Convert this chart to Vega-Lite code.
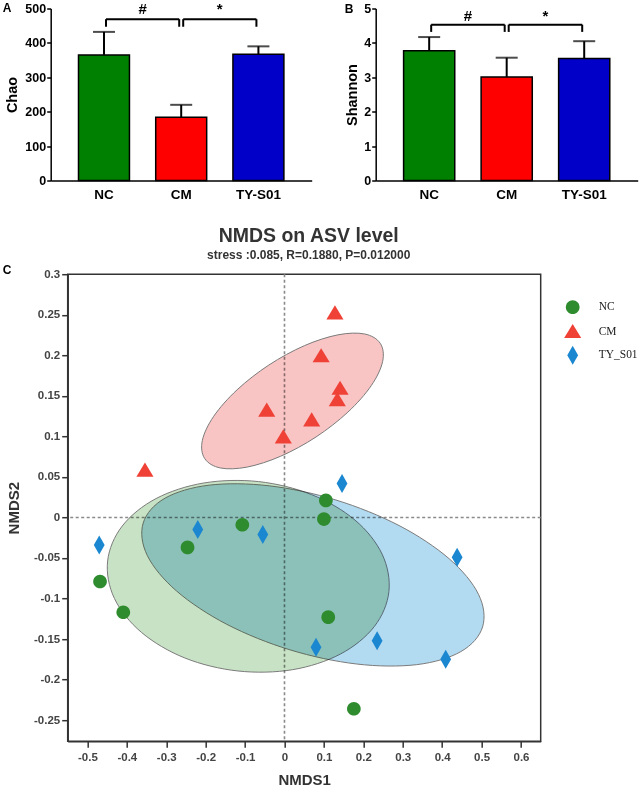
{
  "$schema": "https://vega.github.io/schema/vega-lite/v6.json",
  "background": "white",
  "padding": {"left": 2.7, "top": 1.5, "right": 0, "bottom": 0},
  "config": {
    "font": "Liberation Sans",
    "view": {"stroke": null},
    "axis": {"grid": false, "labelOverlap": false},
    "axisY": {"labelOverlap": false}
  },
  "datasets": {
    "chao": [
      {"group": "NC", "mean": 365, "upper": 432},
      {"group": "CM", "mean": 184, "upper": 220},
      {"group": "TY-S01", "mean": 367, "upper": 390}
    ],
    "chaoBr": [
      {"from": "NC", "to": "CM", "top": 469, "bottom": 447, "ly": 483, "label": "#"},
      {"from": "CM", "to": "TY-S01", "top": 469, "bottom": 447, "ly": 483, "label": "*"}
    ],
    "shannon": [
      {"group": "NC", "mean": 3.77, "upper": 4.17},
      {"group": "CM", "mean": 3.01, "upper": 3.57},
      {"group": "TY-S01", "mean": 3.55, "upper": 4.05}
    ],
    "shannonBr": [
      {"from": "NC", "to": "CM", "top": 4.53, "bottom": 4.32, "ly": 4.65, "label": "#"},
      {"from": "CM", "to": "TY-S01", "top": 4.53, "bottom": 4.32, "ly": 4.65, "label": "*"}
    ],
    "points": [
      {"group": "NC", "NMDS1": -0.468, "NMDS2": -0.079},
      {"group": "NC", "NMDS1": -0.409, "NMDS2": -0.117},
      {"group": "NC", "NMDS1": -0.246, "NMDS2": -0.037},
      {"group": "NC", "NMDS1": -0.107, "NMDS2": -0.009},
      {"group": "NC", "NMDS1": 0.105, "NMDS2": 0.021},
      {"group": "NC", "NMDS1": 0.100, "NMDS2": -0.002},
      {"group": "NC", "NMDS1": 0.111, "NMDS2": -0.123},
      {"group": "NC", "NMDS1": 0.176, "NMDS2": -0.236},
      {"group": "CM", "NMDS1": 0.128, "NMDS2": 0.252},
      {"group": "CM", "NMDS1": 0.093, "NMDS2": 0.199},
      {"group": "CM", "NMDS1": 0.141, "NMDS2": 0.159},
      {"group": "CM", "NMDS1": 0.134, "NMDS2": 0.145},
      {"group": "CM", "NMDS1": 0.069, "NMDS2": 0.120},
      {"group": "CM", "NMDS1": -0.003, "NMDS2": 0.099},
      {"group": "CM", "NMDS1": -0.045, "NMDS2": 0.132},
      {"group": "CM", "NMDS1": -0.354, "NMDS2": 0.058},
      {"group": "TY_S01", "NMDS1": -0.470, "NMDS2": -0.034},
      {"group": "TY_S01", "NMDS1": -0.220, "NMDS2": -0.015},
      {"group": "TY_S01", "NMDS1": -0.055, "NMDS2": -0.021},
      {"group": "TY_S01", "NMDS1": 0.080, "NMDS2": -0.160},
      {"group": "TY_S01", "NMDS1": 0.146, "NMDS2": 0.042},
      {"group": "TY_S01", "NMDS1": 0.438, "NMDS2": -0.049},
      {"group": "TY_S01", "NMDS1": 0.235, "NMDS2": -0.152},
      {"group": "TY_S01", "NMDS1": 0.409, "NMDS2": -0.175}
    ],
    "ellipses": [
      {"group": "NC", "i": 0, "NMDS1": 0.2649, "NMDS2": -0.0915},
      {"group": "NC", "i": 1, "NMDS1": 0.2277, "NMDS2": -0.1347},
      {"group": "NC", "i": 2, "NMDS1": 0.1419, "NMDS2": -0.1685},
      {"group": "NC", "i": 3, "NMDS1": 0.0205, "NMDS2": -0.1878},
      {"group": "NC", "i": 4, "NMDS1": -0.1180, "NMDS2": -0.1894},
      {"group": "NC", "i": 5, "NMDS1": -0.2526, "NMDS2": -0.1734},
      {"group": "NC", "i": 6, "NMDS1": -0.3626, "NMDS2": -0.1419},
      {"group": "NC", "i": 7, "NMDS1": -0.4315, "NMDS2": -0.0999},
      {"group": "NC", "i": 8, "NMDS1": -0.4487, "NMDS2": -0.0538},
      {"group": "NC", "i": 9, "NMDS1": -0.4115, "NMDS2": -0.0105},
      {"group": "NC", "i": 10, "NMDS1": -0.3257, "NMDS2": 0.0233},
      {"group": "NC", "i": 11, "NMDS1": -0.2043, "NMDS2": 0.0425},
      {"group": "NC", "i": 12, "NMDS1": -0.0658, "NMDS2": 0.0442},
      {"group": "NC", "i": 13, "NMDS1": 0.0688, "NMDS2": 0.0281},
      {"group": "NC", "i": 14, "NMDS1": 0.1789, "NMDS2": -0.0033},
      {"group": "NC", "i": 15, "NMDS1": 0.2477, "NMDS2": -0.0453},
      {"group": "TY_S01", "i": 0, "NMDS1": 0.5026, "NMDS2": -0.1350},
      {"group": "TY_S01", "i": 1, "NMDS1": 0.4475, "NMDS2": -0.1655},
      {"group": "TY_S01", "i": 2, "NMDS1": 0.3353, "NMDS2": -0.1816},
      {"group": "TY_S01", "i": 3, "NMDS1": 0.1830, "NMDS2": -0.1808},
      {"group": "TY_S01", "i": 4, "NMDS1": 0.0138, "NMDS2": -0.1633},
      {"group": "TY_S01", "i": 5, "NMDS1": -0.1465, "NMDS2": -0.1318},
      {"group": "TY_S01", "i": 6, "NMDS1": -0.2735, "NMDS2": -0.0909},
      {"group": "TY_S01", "i": 7, "NMDS1": -0.3479, "NMDS2": -0.0471},
      {"group": "TY_S01", "i": 8, "NMDS1": -0.3584, "NMDS2": -0.0068},
      {"group": "TY_S01", "i": 9, "NMDS1": -0.3033, "NMDS2": 0.0237},
      {"group": "TY_S01", "i": 10, "NMDS1": -0.1911, "NMDS2": 0.0398},
      {"group": "TY_S01", "i": 11, "NMDS1": -0.0388, "NMDS2": 0.0390},
      {"group": "TY_S01", "i": 12, "NMDS1": 0.1304, "NMDS2": 0.0215},
      {"group": "TY_S01", "i": 13, "NMDS1": 0.2907, "NMDS2": -0.0100},
      {"group": "TY_S01", "i": 14, "NMDS1": 0.4177, "NMDS2": -0.0509},
      {"group": "TY_S01", "i": 15, "NMDS1": 0.4921, "NMDS2": -0.0947},
      {"group": "CM", "i": 0, "NMDS1": 0.2430, "NMDS2": 0.2147},
      {"group": "CM", "i": 1, "NMDS1": 0.2490, "NMDS2": 0.1924},
      {"group": "CM", "i": 2, "NMDS1": 0.2202, "NMDS2": 0.1626},
      {"group": "CM", "i": 3, "NMDS1": 0.1609, "NMDS2": 0.1299},
      {"group": "CM", "i": 4, "NMDS1": 0.0802, "NMDS2": 0.0993},
      {"group": "CM", "i": 5, "NMDS1": -0.0096, "NMDS2": 0.0755},
      {"group": "CM", "i": 6, "NMDS1": -0.0948, "NMDS2": 0.0621},
      {"group": "CM", "i": 7, "NMDS1": -0.1625, "NMDS2": 0.0610},
      {"group": "CM", "i": 8, "NMDS1": -0.2024, "NMDS2": 0.0726},
      {"group": "CM", "i": 9, "NMDS1": -0.2084, "NMDS2": 0.0949},
      {"group": "CM", "i": 10, "NMDS1": -0.1796, "NMDS2": 0.1247},
      {"group": "CM", "i": 11, "NMDS1": -0.1203, "NMDS2": 0.1574},
      {"group": "CM", "i": 12, "NMDS1": -0.0396, "NMDS2": 0.1880},
      {"group": "CM", "i": 13, "NMDS1": 0.0502, "NMDS2": 0.2118},
      {"group": "CM", "i": 14, "NMDS1": 0.1355, "NMDS2": 0.2252},
      {"group": "CM", "i": 15, "NMDS1": 0.2031, "NMDS2": 0.2263}
    ]
  },
  "spacing": 22.7,
  "resolve": {"scale": {"color": "independent", "shape": "independent"}, "legend": {"color": "independent", "shape": "independent"}},
  "vconcat": [
    {
      "spacing": 64,
      "bounds": "flush",
      "resolve": {"scale": {"color": "independent", "shape": "independent"}, "legend": {"color": "independent", "shape": "independent"}},
      "hconcat": [
        {
          "width": 261,
          "height": 172,
          "title": {"text": "A", "anchor": "start", "frame": "group", "orient": "top", "offset": 0, "dx": -48, "dy": 13, "baseline": "top", "fontSize": 12, "fontWeight": "bold", "color": "black"},
          "layer": [
            {
              "data": {"name": "chao"},
              "mark": {"type": "rule", "color": "black", "strokeWidth": 2},
              "encoding": {
                "x": {"field": "group", "type": "nominal", "title": null, "scale": {"domain": ["NC", "CM", "TY-S01"], "paddingInner": 0.34, "paddingOuter": 0.36},
                  "axis": {"labelAngle": 0, "ticks": false, "domainColor": "black", "domainWidth": 1.5, "labelFontSize": 13.5, "labelFontWeight": "bold", "labelColor": "black", "labelPadding": 7}},
                "y": {"field": "mean", "type": "quantitative", "title": "Chao", "scale": {"domain": [0, 500], "nice": false},
                  "axis": {"values": [0, 100, 200, 300, 400, 500], "tickCount": 6, "labelOverlap": false, "domainColor": "black", "domainWidth": 1.5, "tickColor": "black", "tickWidth": 1.5, "tickSize": 4, "labelFontSize": 12.5, "labelFontWeight": "bold", "labelColor": "black", "labelPadding": 1, "titleFontSize": 14.5, "titleFontWeight": "bold", "titleColor": "black", "titlePadding": 5}},
                "y2": {"field": "upper"}
              }
            },
            {
              "data": {"name": "chao"},
              "mark": {"type": "tick", "color": "black", "thickness": 2, "size": 22},
              "encoding": {
                "x": {"field": "group", "type": "nominal", "title": null, "scale": {"domain": ["NC", "CM", "TY-S01"], "paddingInner": 0.34, "paddingOuter": 0.36},
                  "axis": {"labelAngle": 0, "ticks": false, "domainColor": "black", "domainWidth": 1.5, "labelFontSize": 13.5, "labelFontWeight": "bold", "labelColor": "black", "labelPadding": 7}},
                "y": {"field": "upper", "type": "quantitative", "title": "Chao", "scale": {"domain": [0, 500], "nice": false},
                  "axis": {"values": [0, 100, 200, 300, 400, 500], "tickCount": 6, "labelOverlap": false, "domainColor": "black", "domainWidth": 1.5, "tickColor": "black", "tickWidth": 1.5, "tickSize": 4, "labelFontSize": 12.5, "labelFontWeight": "bold", "labelColor": "black", "labelPadding": 1, "titleFontSize": 14.5, "titleFontWeight": "bold", "titleColor": "black", "titlePadding": 5}}
              }
            },
            {
              "data": {"name": "chao"},
              "mark": {"type": "bar", "stroke": "black", "strokeWidth": 1.5},
              "encoding": {
                "x": {"field": "group", "type": "nominal", "title": null, "scale": {"domain": ["NC", "CM", "TY-S01"], "paddingInner": 0.34, "paddingOuter": 0.36},
                  "axis": {"labelAngle": 0, "ticks": false, "domainColor": "black", "domainWidth": 1.5, "labelFontSize": 13.5, "labelFontWeight": "bold", "labelColor": "black", "labelPadding": 7}},
                "y": {"field": "mean", "type": "quantitative", "title": "Chao", "scale": {"domain": [0, 500], "nice": false},
                  "axis": {"values": [0, 100, 200, 300, 400, 500], "tickCount": 6, "labelOverlap": false, "domainColor": "black", "domainWidth": 1.5, "tickColor": "black", "tickWidth": 1.5, "tickSize": 4, "labelFontSize": 12.5, "labelFontWeight": "bold", "labelColor": "black", "labelPadding": 1, "titleFontSize": 14.5, "titleFontWeight": "bold", "titleColor": "black", "titlePadding": 5}},
                "color": {"field": "group", "type": "nominal", "scale": {"domain": ["NC", "CM", "TY-S01"], "range": ["#008000", "#FF0000", "#0000C8"]}, "legend": null}
              }
            },
            {
              "data": {"name": "chaoBr"},
              "mark": {"type": "rule", "color": "black", "strokeWidth": 2, "xOffset": 2, "x2Offset": -2},
              "encoding": {
                "x": {"field": "from", "type": "nominal", "title": null, "bandPosition": 0.5, "scale": {"domain": ["NC", "CM", "TY-S01"], "paddingInner": 0.34, "paddingOuter": 0.36},
                  "axis": {"labelAngle": 0, "ticks": false, "domainColor": "black", "domainWidth": 1.5, "labelFontSize": 13.5, "labelFontWeight": "bold", "labelColor": "black", "labelPadding": 7}},
                "x2": {"field": "to", "bandPosition": 0.5},
                "y": {"field": "top", "type": "quantitative", "title": "Chao", "scale": {"domain": [0, 500], "nice": false},
                  "axis": {"values": [0, 100, 200, 300, 400, 500], "tickCount": 6, "labelOverlap": false, "domainColor": "black", "domainWidth": 1.5, "tickColor": "black", "tickWidth": 1.5, "tickSize": 4, "labelFontSize": 12.5, "labelFontWeight": "bold", "labelColor": "black", "labelPadding": 1, "titleFontSize": 14.5, "titleFontWeight": "bold", "titleColor": "black", "titlePadding": 5}}
              }
            },
            {
              "data": {"name": "chaoBr"},
              "mark": {"type": "rule", "color": "black", "strokeWidth": 2, "xOffset": 2},
              "encoding": {
                "x": {"field": "from", "type": "nominal", "title": null, "scale": {"domain": ["NC", "CM", "TY-S01"], "paddingInner": 0.34, "paddingOuter": 0.36},
                  "axis": {"labelAngle": 0, "ticks": false, "domainColor": "black", "domainWidth": 1.5, "labelFontSize": 13.5, "labelFontWeight": "bold", "labelColor": "black", "labelPadding": 7}},
                "y": {"field": "top", "type": "quantitative", "title": "Chao", "scale": {"domain": [0, 500], "nice": false},
                  "axis": {"values": [0, 100, 200, 300, 400, 500], "tickCount": 6, "labelOverlap": false, "domainColor": "black", "domainWidth": 1.5, "tickColor": "black", "tickWidth": 1.5, "tickSize": 4, "labelFontSize": 12.5, "labelFontWeight": "bold", "labelColor": "black", "labelPadding": 1, "titleFontSize": 14.5, "titleFontWeight": "bold", "titleColor": "black", "titlePadding": 5}},
                "y2": {"field": "bottom"}
              }
            },
            {
              "data": {"name": "chaoBr"},
              "mark": {"type": "rule", "color": "black", "strokeWidth": 2, "xOffset": -2},
              "encoding": {
                "x": {"field": "to", "type": "nominal", "title": null, "scale": {"domain": ["NC", "CM", "TY-S01"], "paddingInner": 0.34, "paddingOuter": 0.36},
                  "axis": {"labelAngle": 0, "ticks": false, "domainColor": "black", "domainWidth": 1.5, "labelFontSize": 13.5, "labelFontWeight": "bold", "labelColor": "black", "labelPadding": 7}},
                "y": {"field": "top", "type": "quantitative", "title": "Chao", "scale": {"domain": [0, 500], "nice": false},
                  "axis": {"values": [0, 100, 200, 300, 400, 500], "tickCount": 6, "labelOverlap": false, "domainColor": "black", "domainWidth": 1.5, "tickColor": "black", "tickWidth": 1.5, "tickSize": 4, "labelFontSize": 12.5, "labelFontWeight": "bold", "labelColor": "black", "labelPadding": 1, "titleFontSize": 14.5, "titleFontWeight": "bold", "titleColor": "black", "titlePadding": 5}},
                "y2": {"field": "bottom"}
              }
            },
            {
              "data": {"name": "chaoBr"},
              "mark": {"type": "text", "fontSize": 15, "fontWeight": "bold", "baseline": "alphabetic", "xOffset": 38.6, "color": "black"},
              "encoding": {
                "x": {"field": "from", "type": "nominal", "title": null, "scale": {"domain": ["NC", "CM", "TY-S01"], "paddingInner": 0.34, "paddingOuter": 0.36},
                  "axis": {"labelAngle": 0, "ticks": false, "domainColor": "black", "domainWidth": 1.5, "labelFontSize": 13.5, "labelFontWeight": "bold", "labelColor": "black", "labelPadding": 7}},
                "y": {"field": "ly", "type": "quantitative", "title": "Chao", "scale": {"domain": [0, 500], "nice": false},
                  "axis": {"values": [0, 100, 200, 300, 400, 500], "tickCount": 6, "labelOverlap": false, "domainColor": "black", "domainWidth": 1.5, "tickColor": "black", "tickWidth": 1.5, "tickSize": 4, "labelFontSize": 12.5, "labelFontWeight": "bold", "labelColor": "black", "labelPadding": 1, "titleFontSize": 14.5, "titleFontWeight": "bold", "titleColor": "black", "titlePadding": 5}},
                "text": {"field": "label"}
              }
            }
          ]
        },
        {
          "width": 262,
          "height": 172,
          "title": {"text": "B", "anchor": "start", "frame": "group", "orient": "top", "offset": 0, "dx": -31, "dy": 13.75, "baseline": "top", "fontSize": 12, "fontWeight": "bold", "color": "black"},
          "layer": [
            {
              "data": {"name": "shannon"},
              "mark": {"type": "rule", "color": "black", "strokeWidth": 2},
              "encoding": {
                "x": {"field": "group", "type": "nominal", "title": null, "scale": {"domain": ["NC", "CM", "TY-S01"], "paddingInner": 0.34, "paddingOuter": 0.36},
                  "axis": {"labelAngle": 0, "ticks": false, "domainColor": "black", "domainWidth": 1.5, "labelFontSize": 13.5, "labelFontWeight": "bold", "labelColor": "black", "labelPadding": 7}},
                "y": {"field": "mean", "type": "quantitative", "title": "Shannon", "scale": {"domain": [0, 5], "nice": false},
                  "axis": {"values": [0, 1, 2, 3, 4, 5], "tickCount": 6, "labelOverlap": false, "domainColor": "black", "domainWidth": 1.5, "tickColor": "black", "tickWidth": 1.5, "tickSize": 4, "labelFontSize": 12.5, "labelFontWeight": "bold", "labelColor": "black", "labelPadding": 1, "titleFontSize": 14.5, "titleFontWeight": "bold", "titleColor": "black", "titlePadding": 4}},
                "y2": {"field": "upper"}
              }
            },
            {
              "data": {"name": "shannon"},
              "mark": {"type": "tick", "color": "black", "thickness": 2, "size": 22},
              "encoding": {
                "x": {"field": "group", "type": "nominal", "title": null, "scale": {"domain": ["NC", "CM", "TY-S01"], "paddingInner": 0.34, "paddingOuter": 0.36},
                  "axis": {"labelAngle": 0, "ticks": false, "domainColor": "black", "domainWidth": 1.5, "labelFontSize": 13.5, "labelFontWeight": "bold", "labelColor": "black", "labelPadding": 7}},
                "y": {"field": "upper", "type": "quantitative", "title": "Shannon", "scale": {"domain": [0, 5], "nice": false},
                  "axis": {"values": [0, 1, 2, 3, 4, 5], "tickCount": 6, "labelOverlap": false, "domainColor": "black", "domainWidth": 1.5, "tickColor": "black", "tickWidth": 1.5, "tickSize": 4, "labelFontSize": 12.5, "labelFontWeight": "bold", "labelColor": "black", "labelPadding": 1, "titleFontSize": 14.5, "titleFontWeight": "bold", "titleColor": "black", "titlePadding": 4}}
              }
            },
            {
              "data": {"name": "shannon"},
              "mark": {"type": "bar", "stroke": "black", "strokeWidth": 1.5},
              "encoding": {
                "x": {"field": "group", "type": "nominal", "title": null, "scale": {"domain": ["NC", "CM", "TY-S01"], "paddingInner": 0.34, "paddingOuter": 0.36},
                  "axis": {"labelAngle": 0, "ticks": false, "domainColor": "black", "domainWidth": 1.5, "labelFontSize": 13.5, "labelFontWeight": "bold", "labelColor": "black", "labelPadding": 7}},
                "y": {"field": "mean", "type": "quantitative", "title": "Shannon", "scale": {"domain": [0, 5], "nice": false},
                  "axis": {"values": [0, 1, 2, 3, 4, 5], "tickCount": 6, "labelOverlap": false, "domainColor": "black", "domainWidth": 1.5, "tickColor": "black", "tickWidth": 1.5, "tickSize": 4, "labelFontSize": 12.5, "labelFontWeight": "bold", "labelColor": "black", "labelPadding": 1, "titleFontSize": 14.5, "titleFontWeight": "bold", "titleColor": "black", "titlePadding": 4}},
                "color": {"field": "group", "type": "nominal", "scale": {"domain": ["NC", "CM", "TY-S01"], "range": ["#008000", "#FF0000", "#0000C8"]}, "legend": null}
              }
            },
            {
              "data": {"name": "shannonBr"},
              "mark": {"type": "rule", "color": "black", "strokeWidth": 2, "xOffset": 2, "x2Offset": -2},
              "encoding": {
                "x": {"field": "from", "type": "nominal", "title": null, "bandPosition": 0.5, "scale": {"domain": ["NC", "CM", "TY-S01"], "paddingInner": 0.34, "paddingOuter": 0.36},
                  "axis": {"labelAngle": 0, "ticks": false, "domainColor": "black", "domainWidth": 1.5, "labelFontSize": 13.5, "labelFontWeight": "bold", "labelColor": "black", "labelPadding": 7}},
                "x2": {"field": "to", "bandPosition": 0.5},
                "y": {"field": "top", "type": "quantitative", "title": "Shannon", "scale": {"domain": [0, 5], "nice": false},
                  "axis": {"values": [0, 1, 2, 3, 4, 5], "tickCount": 6, "labelOverlap": false, "domainColor": "black", "domainWidth": 1.5, "tickColor": "black", "tickWidth": 1.5, "tickSize": 4, "labelFontSize": 12.5, "labelFontWeight": "bold", "labelColor": "black", "labelPadding": 1, "titleFontSize": 14.5, "titleFontWeight": "bold", "titleColor": "black", "titlePadding": 4}}
              }
            },
            {
              "data": {"name": "shannonBr"},
              "mark": {"type": "rule", "color": "black", "strokeWidth": 2, "xOffset": 2},
              "encoding": {
                "x": {"field": "from", "type": "nominal", "title": null, "scale": {"domain": ["NC", "CM", "TY-S01"], "paddingInner": 0.34, "paddingOuter": 0.36},
                  "axis": {"labelAngle": 0, "ticks": false, "domainColor": "black", "domainWidth": 1.5, "labelFontSize": 13.5, "labelFontWeight": "bold", "labelColor": "black", "labelPadding": 7}},
                "y": {"field": "top", "type": "quantitative", "title": "Shannon", "scale": {"domain": [0, 5], "nice": false},
                  "axis": {"values": [0, 1, 2, 3, 4, 5], "tickCount": 6, "labelOverlap": false, "domainColor": "black", "domainWidth": 1.5, "tickColor": "black", "tickWidth": 1.5, "tickSize": 4, "labelFontSize": 12.5, "labelFontWeight": "bold", "labelColor": "black", "labelPadding": 1, "titleFontSize": 14.5, "titleFontWeight": "bold", "titleColor": "black", "titlePadding": 4}},
                "y2": {"field": "bottom"}
              }
            },
            {
              "data": {"name": "shannonBr"},
              "mark": {"type": "rule", "color": "black", "strokeWidth": 2, "xOffset": -2},
              "encoding": {
                "x": {"field": "to", "type": "nominal", "title": null, "scale": {"domain": ["NC", "CM", "TY-S01"], "paddingInner": 0.34, "paddingOuter": 0.36},
                  "axis": {"labelAngle": 0, "ticks": false, "domainColor": "black", "domainWidth": 1.5, "labelFontSize": 13.5, "labelFontWeight": "bold", "labelColor": "black", "labelPadding": 7}},
                "y": {"field": "top", "type": "quantitative", "title": "Shannon", "scale": {"domain": [0, 5], "nice": false},
                  "axis": {"values": [0, 1, 2, 3, 4, 5], "tickCount": 6, "labelOverlap": false, "domainColor": "black", "domainWidth": 1.5, "tickColor": "black", "tickWidth": 1.5, "tickSize": 4, "labelFontSize": 12.5, "labelFontWeight": "bold", "labelColor": "black", "labelPadding": 1, "titleFontSize": 14.5, "titleFontWeight": "bold", "titleColor": "black", "titlePadding": 4}},
                "y2": {"field": "bottom"}
              }
            },
            {
              "data": {"name": "shannonBr"},
              "mark": {"type": "text", "fontSize": 15, "fontWeight": "bold", "baseline": "alphabetic", "xOffset": 38.8, "color": "black"},
              "encoding": {
                "x": {"field": "from", "type": "nominal", "title": null, "scale": {"domain": ["NC", "CM", "TY-S01"], "paddingInner": 0.34, "paddingOuter": 0.36},
                  "axis": {"labelAngle": 0, "ticks": false, "domainColor": "black", "domainWidth": 1.5, "labelFontSize": 13.5, "labelFontWeight": "bold", "labelColor": "black", "labelPadding": 7}},
                "y": {"field": "ly", "type": "quantitative", "title": "Shannon", "scale": {"domain": [0, 5], "nice": false},
                  "axis": {"values": [0, 1, 2, 3, 4, 5], "tickCount": 6, "labelOverlap": false, "domainColor": "black", "domainWidth": 1.5, "tickColor": "black", "tickWidth": 1.5, "tickSize": 4, "labelFontSize": 12.5, "labelFontWeight": "bold", "labelColor": "black", "labelPadding": 1, "titleFontSize": 14.5, "titleFontWeight": "bold", "titleColor": "black", "titlePadding": 4}},
                "text": {"field": "label"}
              }
            }
          ]
        }
      ]
    },
    {
      "spacing": 16,
      "bounds": "flush",
      "resolve": {"scale": {"color": "independent", "shape": "independent"}, "legend": {"color": "independent", "shape": "independent"}},
      "hconcat": [
        {
          "width": 1,
          "height": 467,
          "title": {"text": "C", "anchor": "start", "frame": "group", "orient": "top", "offset": 0, "dx": -48, "dy": 2.6, "baseline": "top", "fontSize": 12, "fontWeight": "bold", "color": "black"},
          "data": {"values": []},
          "mark": "point"
        },
        {
          "width": 473,
          "height": 467,
          "view": {"stroke": "#333333", "strokeWidth": 1.5},
          "title": {"text": "NMDS on ASV level", "subtitle": "stress :0.085, R=0.1880, P=0.012000", "anchor": "middle", "frame": "group", "dx": 4.5, "offset": 6.4, "fontSize": 19.5, "fontWeight": "bold", "color": "#333333", "subtitleFont": "Liberation Sans", "subtitleFontSize": 12, "subtitleFontWeight": "bold", "subtitleColor": "#333333", "subtitlePadding": 3.5},
          "layer": [
            {
              "data": {"values": [{}]},
              "mark": {"type": "rule", "color": "#8a8a8a", "strokeWidth": 1.6, "strokeDash": [3, 2.5]},
              "encoding": {
                "x": {"datum": 0, "type": "quantitative", "scale": {"domain": [-0.55, 0.65], "nice": false, "zero": false}}
              }
            },
            {
              "data": {"values": [{}]},
              "mark": {"type": "rule", "color": "#8a8a8a", "strokeWidth": 1.6, "strokeDash": [3, 2.5]},
              "encoding": {
                "y": {"datum": 0, "type": "quantitative", "scale": {"domain": [-0.276, 0.3], "nice": false, "zero": false}}
              }
            },
            {
              "data": {"name": "ellipses"},
              "transform": [{"filter": "datum.group === 'NC'"}],
              "mark": {"type": "line", "interpolate": "cardinal-closed", "fill": "#C8E2C5", "stroke": "#7a7a7a", "strokeWidth": 1, "blend": "multiply"},
              "encoding": {
                "x": {"field": "NMDS1", "type": "quantitative", "scale": {"domain": [-0.55, 0.65], "nice": false, "zero": false}},
                "y": {"field": "NMDS2", "type": "quantitative", "scale": {"domain": [-0.276, 0.3], "nice": false, "zero": false}},
                "order": {"field": "i", "type": "quantitative"}
              }
            },
            {
              "data": {"name": "ellipses"},
              "transform": [{"filter": "datum.group === 'TY_S01'"}],
              "mark": {"type": "line", "interpolate": "cardinal-closed", "fill": "#B2DAF0", "stroke": "#7a7a7a", "strokeWidth": 1, "blend": "multiply"},
              "encoding": {
                "x": {"field": "NMDS1", "type": "quantitative", "scale": {"domain": [-0.55, 0.65], "nice": false, "zero": false}},
                "y": {"field": "NMDS2", "type": "quantitative", "scale": {"domain": [-0.276, 0.3], "nice": false, "zero": false}},
                "order": {"field": "i", "type": "quantitative"}
              }
            },
            {
              "data": {"name": "ellipses"},
              "transform": [{"filter": "datum.group === 'CM'"}],
              "mark": {"type": "line", "interpolate": "cardinal-closed", "fill": "#F9C4C4", "stroke": "#7a7a7a", "strokeWidth": 1, "blend": "multiply"},
              "encoding": {
                "x": {"field": "NMDS1", "type": "quantitative", "scale": {"domain": [-0.55, 0.65], "nice": false, "zero": false}},
                "y": {"field": "NMDS2", "type": "quantitative", "scale": {"domain": [-0.276, 0.3], "nice": false, "zero": false}},
                "order": {"field": "i", "type": "quantitative"}
              }
            },
            {
              "data": {"name": "points"},
              "mark": {"type": "point", "filled": true, "size": 361, "opacity": 1, "strokeWidth": 0},
              "encoding": {
                "x": {"field": "NMDS1", "type": "quantitative", "title": "NMDS1", "scale": {"domain": [-0.55, 0.65], "nice": false, "zero": false},
                  "axis": {"values": [-0.5, -0.4, -0.3, -0.2, -0.1, 0, 0.1, 0.2, 0.3, 0.4, 0.5, 0.6], "labelExpr": "replace(format(datum.value, '.1~f'), '\u2212', '-')", "domainColor": "#333333", "domainWidth": 1.5, "tickColor": "#333333", "tickWidth": 1.5, "tickSize": 6, "labelFontSize": 11.5, "labelFontWeight": "bold", "labelColor": "#444444", "labelPadding": 4, "labelFlush": false, "labelOverlap": false, "titleFontSize": 15, "titleFontWeight": "bold", "titleColor": "#333333", "titlePadding": 10}},
                "y": {"field": "NMDS2", "type": "quantitative", "title": "NMDS2", "scale": {"domain": [-0.276, 0.3], "nice": false, "zero": false},
                  "axis": {"values": [-0.25, -0.2, -0.15, -0.1, -0.05, 0, 0.05, 0.1, 0.15, 0.2, 0.25, 0.3], "labelExpr": "replace(format(datum.value, '.2~f'), '\u2212', '-')", "domainColor": "#333333", "domainWidth": 1.5, "tickColor": "#333333", "tickWidth": 1.5, "tickSize": 6, "labelFontSize": 11.5, "labelFontWeight": "bold", "labelColor": "#444444", "labelPadding": 2, "labelFlush": false, "labelOverlap": false, "titleFontSize": 15, "titleFontWeight": "bold", "titleColor": "#333333", "titlePadding": 12}},
                "color": {"field": "group", "type": "nominal", "scale": {"domain": ["NC", "CM", "TY_S01"], "range": ["#2E8B2E", "#EF4136", "#1B87D0"]},
                  "legend": {"title": null, "orient": "none", "legendX": 495.5, "legendY": 23.5, "symbolSize": 361, "labelFont": "Liberation Serif", "labelFontSize": 11.5, "labelColor": "#222222", "rowPadding": 7.5, "labelOffset": 16.5, "symbolStrokeWidth": 0, "padding": 0}},
                "shape": {"field": "group", "type": "nominal", "scale": {"domain": ["NC", "CM", "TY_S01"], "range": ["M0.72,0A0.72,0.72,0,1,1,-0.72,0A0.72,0.72,0,1,1,0.72,0Z", "M0,-0.82L0.9,0.66L-0.9,0.66Z", "M0,-1L0.57,0L0,1L-0.57,0Z"]},
                  "legend": {"title": null, "orient": "none", "legendX": 495.5, "legendY": 23.5, "symbolSize": 361, "labelFont": "Liberation Serif", "labelFontSize": 11.5, "labelColor": "#222222", "rowPadding": 7.5, "labelOffset": 16.5, "symbolStrokeWidth": 0, "padding": 0}}
              }
            }
          ]
        }
      ]
    }
  ]
}
